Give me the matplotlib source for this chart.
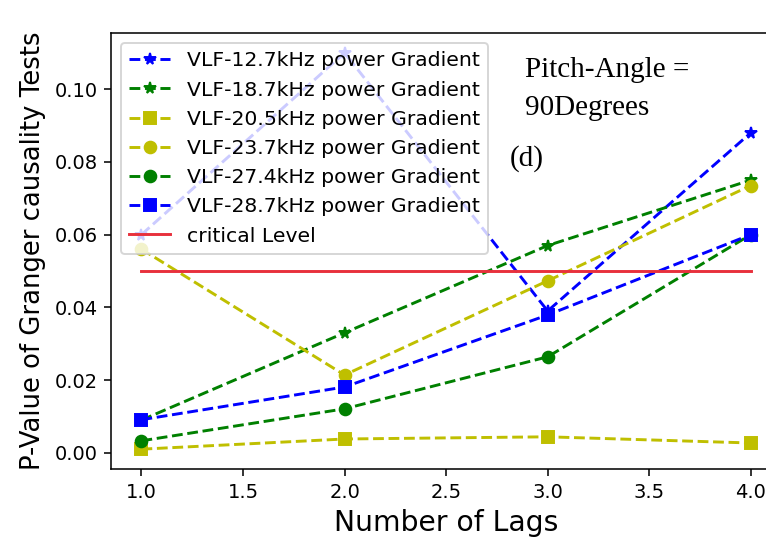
import matplotlib
matplotlib.use('Agg')
import matplotlib.pyplot as plt

# lags and p-values
lags = [1.0, 2.0, 3.0, 4.0]
p_127 = [0.060, 0.110, 0.039, 0.088]
p_187 = [0.009, 0.033, 0.057, 0.075]
p_205 = [0.001, 0.0038, 0.0044, 0.0027]
p_237 = [0.056, 0.0214, 0.0473, 0.0735]
p_274 = [0.0033, 0.0121, 0.0264, 0.0600]
p_287 = [0.0091, 0.0181, 0.0379, 0.0600]
critical = 0.05

fig = plt.figure(figsize=(766 / 140, 540 / 140), dpi=140)
ax = fig.add_axes([0.1449, 0.1315, 0.875, 0.8074])

ax.plot(lags, p_127, 'b*--', label='VLF-12.7kHz power Gradient')
ax.plot(lags, p_187, 'g*--', label='VLF-18.7kHz power Gradient')
ax.plot(lags, p_205, 'ys--', label='VLF-20.5kHz power Gradient')
ax.plot(lags, p_237, 'yo--', label='VLF-23.7kHz power Gradient')
ax.plot(lags, p_274, 'go--', label='VLF-27.4kHz power Gradient')
ax.plot(lags, p_287, 'bs--', label='VLF-28.7kHz power Gradient')
ax.plot([lags[0], lags[-1]], [critical, critical], color='#e8303c', label='critical Level')

ax.legend(loc='upper left', fontsize=10.5)
ax.set_xlabel('Number of Lags', fontsize=14.5)
ax.set_ylabel('P-Value of Granger causality Tests', fontsize=13.3)

ax.text(2.887, 0.1033, 'Pitch-Angle =', fontsize=15, family='Liberation Serif')
ax.text(2.887, 0.0929, '90Degrees', fontsize=15, family='Liberation Serif')
ax.text(2.813, 0.0790, '(d)', fontsize=15, family='Liberation Serif')

fig.savefig('out.png', dpi=140)
